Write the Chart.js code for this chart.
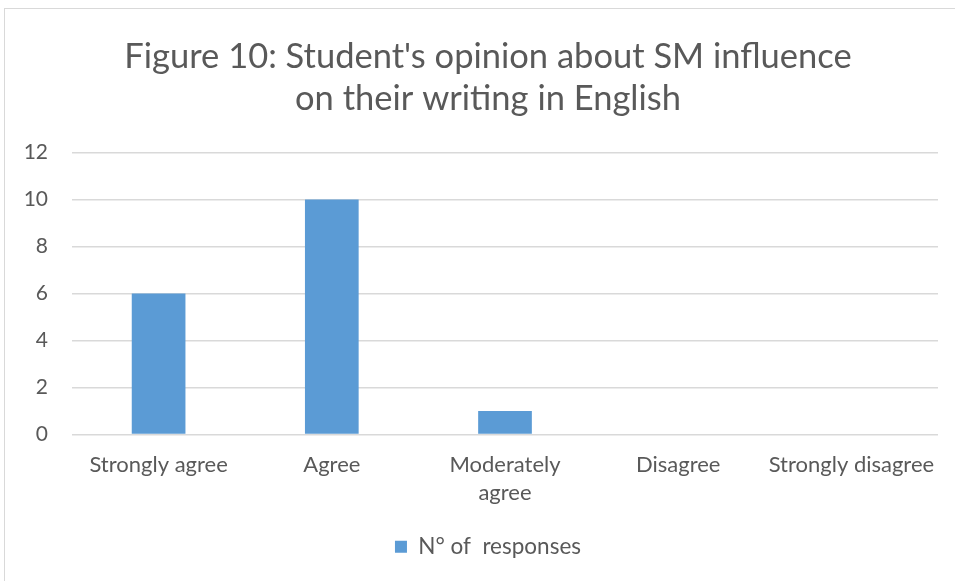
<!DOCTYPE html>
<html>
<head>
<meta charset="utf-8">
<script src="https://cdn.jsdelivr.net/npm/chart.js@4/dist/chart.umd.min.js"></script>
<style>
  html, body { margin: 0; padding: 0; background: #fff; }
  #frame { position: absolute; left: 4px; top: 8px; width: 980px; height: 600px; border: 1px solid #d9d9d9; box-sizing: border-box; }
  #wrap { position: absolute; left: 0; top: 0; width: 955px; height: 581px; }
</style>
</head>
<body>
<div id="frame"></div>
<div id="wrap"><canvas id="chart" width="955" height="581"></canvas></div>
<script>
// data
const categories = ['Strongly agree', 'Agree', ['Moderately', 'agree'], 'Disagree', 'Strongly disagree'];
const responses = [6, 10, 1, 0, 0];
const seriesLabel = 'N° of  responses';
const titleLines = ["Figure 10: Student's opinion about SM influence", 'on their writing in English'];

const textColor = '#595959';
const fontFamily = 'Lato, "Open Sans", sans-serif';

// y labels sit left of the padded box, so let them draw outside the axis box
const noLabelClip = {
    id: 'noLabelClip',
    beforeDraw(chart) {
        chart.scales.y._computeLabelArea = () => null;
    }
};

const ctx = document.getElementById('chart').getContext('2d');
new Chart(ctx, {
    type: 'bar',
    data: {
        labels: categories,
        datasets: [{
            label: seriesLabel,
            data: responses,
            backgroundColor: '#5b9bd5',
            barPercentage: 0.62,
            categoryPercentage: 0.5
        }]
    },
    options: {
        responsive: false,
        animation: false,
        layout: { padding: { left: 38, right: 17, top: 35, bottom: 13 } },
        plugins: {
            title: {
                display: true,
                text: titleLines,
                color: textColor,
                font: { family: fontFamily, size: 34.5, weight: 'normal', lineHeight: 1.24 },
                padding: { top: 0, bottom: 32 }
            },
            legend: {
                position: 'bottom',
                labels: {
                    color: textColor,
                    font: { family: fontFamily, size: 22.5 },
                    boxWidth: 12,
                    boxHeight: 12,
                    padding: 21
                }
            },
            tooltip: { enabled: false }
        },
        scales: {
            x: {
                grid: { display: false },
                border: { display: false },
                ticks: { color: textColor, font: { family: fontFamily, size: 22, lineHeight: 1.27 }, maxRotation: 0, autoSkip: false, padding: 8 }
            },
            y: {
                min: 0,
                max: 12,
                afterFit: (scale) => { scale.width = 34; },
                grid: { color: '#d9d9d9', lineWidth: 1.5, drawTicks: false },
                border: { display: false },
                ticks: { stepSize: 2, color: textColor, font: { family: fontFamily, size: 21 }, padding: 24 }
            }
        }
    },
    plugins: [noLabelClip]
});
</script>
</body>
</html>
